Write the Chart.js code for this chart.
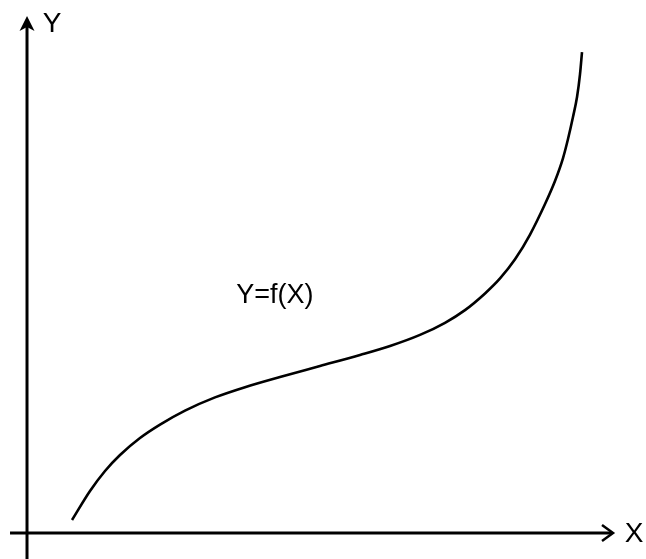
<!DOCTYPE html>
<html>
<head>
<meta charset="utf-8">
<script src="https://cdn.jsdelivr.net/npm/chart.js@4/dist/chart.umd.min.js"></script>
<style>
  html, body { margin: 0; padding: 0; background: #ffffff; }
  #wrap { width: 646px; height: 559px; position: relative; }
</style>
</head>
<body>
<div id="wrap"><canvas id="c" width="646" height="559"></canvas></div>
<script>
// Curve samples (arbitrary units, axes cross at 0,0)
const curveX = [7.68, 10.75, 13.31, 15.87, 19.28, 22.70, 26.96, 32.08, 37.20, 43.17, 50.00, 56.83, 61.95, 67.06, 71.33, 74.74, 78.16, 80.72, 83.28, 85.84, 88.40, 90.10, 91.47, 92.32, 93.17, 93.86, 94.37, 94.71];
const curveY = [2.52, 8.14, 12.02, 15.12, 18.41, 21.01, 23.72, 26.28, 28.26, 30.23, 32.36, 34.50, 36.24, 38.39, 40.74, 43.20, 46.43, 49.34, 53.04, 57.85, 63.76, 68.22, 72.67, 76.36, 80.62, 84.50, 88.95, 93.22];
const axisLabels = ["X", "Y"];
const curveLabel = "Y=f(X)";
const curveLabelAt = [42.3, 46.1];

const FONT = '"Liberation Sans", Arial, sans-serif';

const axesPlugin = {
  id: 'arrowAxes',
  beforeDatasetsDraw(chart) {
    const ctx = chart.ctx;
    const xs = chart.scales.x, ys = chart.scales.y;
    const x0 = xs.getPixelForValue(0), y0 = ys.getPixelForValue(0);
    const xStart = xs.getPixelForValue(-2.9), xTip = xs.getPixelForValue(100);
    const yBottom = ys.getPixelForValue(-5.1), yTip = ys.getPixelForValue(100);
    ctx.save();
    ctx.strokeStyle = '#000';
    ctx.fillStyle = '#000';
    ctx.lineWidth = 3;
    ctx.lineCap = 'butt';
    // X axis
    ctx.beginPath();
    ctx.moveTo(xStart, y0);
    ctx.lineTo(xTip - 1, y0);
    ctx.stroke();
    // X arrow (chevron)
    ctx.lineWidth = 2.5;
    ctx.beginPath();
    ctx.moveTo(xTip - 11, y0 - 8);
    ctx.lineTo(xTip, y0);
    ctx.lineTo(xTip - 11, y0 + 8);
    ctx.stroke();
    // Y axis
    ctx.lineWidth = 3;
    ctx.beginPath();
    ctx.moveTo(x0, yBottom);
    ctx.lineTo(x0, yTip + 4);
    ctx.stroke();
    // Y arrow (filled head)
    ctx.beginPath();
    ctx.moveTo(x0, yTip - 1);
    ctx.lineTo(x0 + 7.5, yTip + 14);
    ctx.lineTo(x0, yTip + 10);
    ctx.lineTo(x0 - 7.5, yTip + 14);
    ctx.closePath();
    ctx.fill();
    // Axis labels
    ctx.font = '28px ' + FONT;
    ctx.textAlign = 'center';
    ctx.textBaseline = 'middle';
    ctx.fillText(axisLabels[0], xTip + 21, y0 + 1);
    ctx.fillText(axisLabels[1], x0 + 25, yTip + 7);
    // Curve label
    ctx.font = '27px ' + FONT;
    ctx.fillText(curveLabel, xs.getPixelForValue(curveLabelAt[0]), ys.getPixelForValue(curveLabelAt[1]));
    ctx.restore();
  }
};

new Chart(document.getElementById('c'), {
  type: 'line',
  data: {
    datasets: [{
      data: curveX.map((x, i) => ({ x: x, y: curveY[i] })),
      borderColor: '#000',
      borderWidth: 2.6,
      pointRadius: 0,
      fill: false,
      cubicInterpolationMode: 'monotone'
    }]
  },
  options: {
    responsive: false,
    animation: false,
    layout: { padding: 0 },
    plugins: { legend: { display: false }, tooltip: { enabled: false }, title: { display: false } },
    scales: {
      x: { type: 'linear', min: -4.61, max: 105.63, display: false },
      y: { type: 'linear', min: -5.04, max: 103.3, display: false }
    }
  },
  plugins: [axesPlugin]
});
</script>
</body>
</html>
